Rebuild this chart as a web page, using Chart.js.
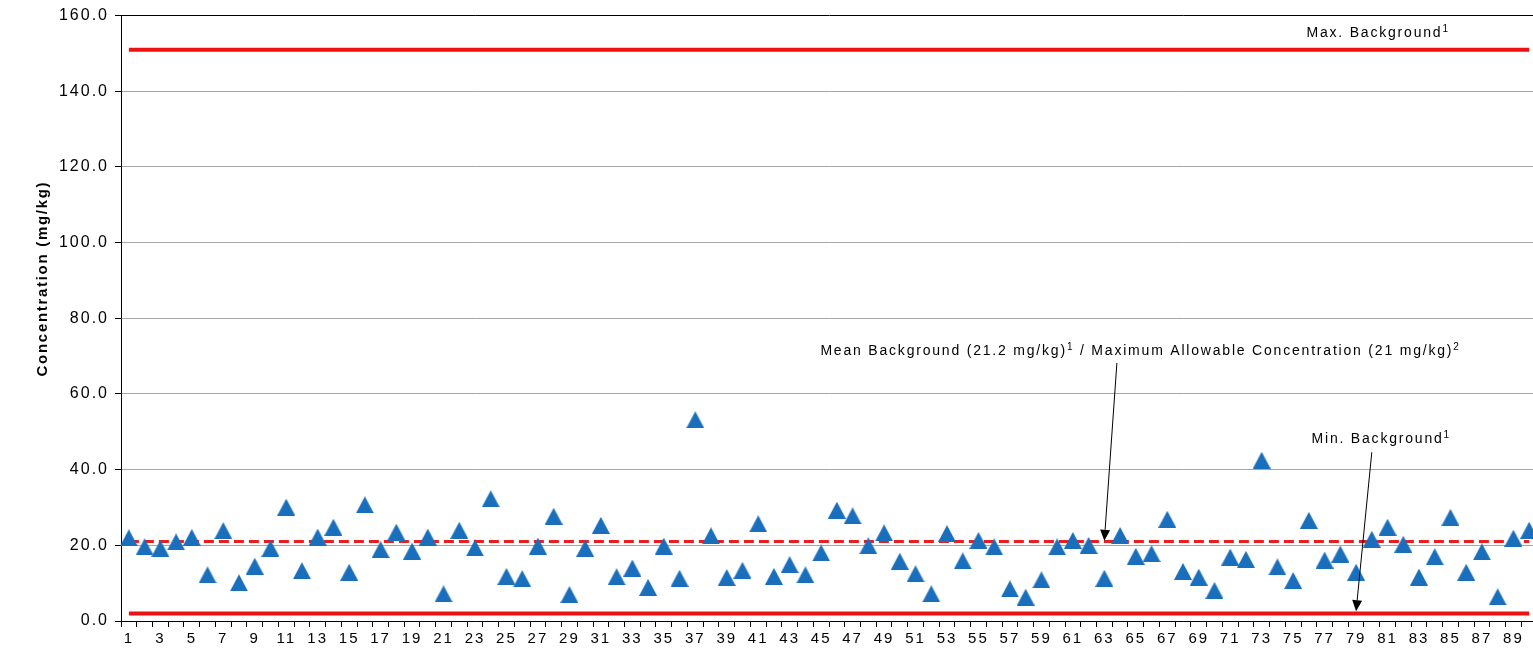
<!DOCTYPE html>
<html>
<head>
<meta charset="utf-8" />
<title>Concentration by Sample</title>
<script src="https://cdn.jsdelivr.net/npm/chart.js"></script>
<style>
	html, body { margin: 0; padding: 0; background: #fff; overflow: hidden; }
	#concChart { display: block; }
</style>
</head>
<body>
<!-- the original plot runs past the right edge of the picture, so the canvas is a bit wider than the window -->
<canvas id="concChart" width="1547" height="651"></canvas>
<script>
// sample numbers along the x axis
const samples = ['1','2','3','4','5','6','7','8','9','10','11','12','13','14','15','16','17','18','19','20',
	'21','22','23','24','25','26','27','28','29','30','31','32','33','34','35','36','37','38','39','40',
	'41','42','43','44','45','46','47','48','49','50','51','52','53','54','55','56','57','58','59','60',
	'61','62','63','64','65','66','67','68','69','70','71','72','73','74','75','76','77','78','79','80',
	'81','82','83','84','85','86','87','88','89','90'];

// concentration (mg/kg)
const concentration = [
	22.0, 19.6, 19.2, 20.9, 22.1, 12.2, 23.9, 10.1, 14.5, 19.2,
	30.1, 13.3, 22.2, 24.8, 12.9, 30.7, 18.9, 23.5, 18.5, 22.2,
	7.2, 24.0, 19.3, 32.3, 11.8, 11.2, 19.8, 27.7, 7.0, 19.2,
	25.3, 11.7, 14.0, 8.9, 19.8, 11.3, 53.2, 22.5, 11.5, 13.4,
	25.7, 11.8, 14.9, 12.2, 18.0, 29.3, 27.8, 19.9, 23.3, 15.8,
	12.5, 7.2, 23.1, 15.9, 21.3, 19.6, 8.5, 6.3, 10.9, 19.6,
	21.3, 20.0, 11.3, 22.6, 17.1, 17.8, 26.9, 13.1, 11.6, 8.1,
	16.9, 16.3, 42.5, 14.3, 10.7, 26.6, 16.1, 17.7, 12.9, 21.6,
	24.8, 20.3, 11.6, 17.0, 27.4, 12.9, 18.3, 6.4, 21.9, 24.0
];

// reference levels
const maxBackground = 151;
const meanBackground = 21;
const minBackground = 2;

// y axis
const yMin = 0;
const yMax = 160;
const yStep = 20;
const yTitle = 'Concentration (mg/kg)';

const FONT = "'Liberation Sans', Arial, sans-serif";
Chart.defaults.font.family = FONT;
Chart.defaults.color = '#000';

function triangleMarker(w, h, color) {
	const c = document.createElement('canvas');
	c.width = w;
	c.height = h;
	const g = c.getContext('2d');
	g.fillStyle = color;
	g.beginPath();
	g.moveTo(w / 2, 0);
	g.lineTo(w, h);
	g.lineTo(0, h);
	g.closePath();
	g.fill();
	return c;
}

function refLine(value) {
	return [
		{ x: samples[0], y: value },
		{ x: samples[samples.length - 1], y: value }
	];
}

// labels and arrows, positioned in data space (sample index, mg/kg)
const labels = [
	{ text: 'Max. Background', sup: '1', at: [79.4, 155.3] },
	{ text: 'Mean Background (21.2 mg/kg)', sup: '1', rest: ' / Maximum Allowable Concentration (21 mg/kg)', sup2: '2', at: [64.3, 71.2] },
	{ text: 'Min. Background', sup: '1', at: [79.6, 48.1] }
];
const arrows = [
	{ from: [62.8, 68.2], to: [62.0, 21.2] },
	{ from: [79.0, 44.6], to: [78.0, 2.6] }
];

const notesPlugin = {
	id: 'notes',
	beforeDraw(chart) {
		// the original renders its text with loose tracking
		chart.ctx.letterSpacing = '2px';
	},
	afterDatasetsDraw(chart) {
		const { ctx, chartArea, scales: { x, y } } = chart;
		ctx.save();
		ctx.fillStyle = '#000';
		ctx.strokeStyle = '#000';
		ctx.textBaseline = 'middle';
		ctx.textAlign = 'left';
		ctx.letterSpacing = '1.8px';

		labels.forEach(l => {
			const parts = [[l.text, false], [l.sup, true]];
			if (l.rest) parts.push([l.rest, false], [l.sup2, true]);
			let total = 0;
			parts.forEach(p => {
				ctx.font = p[1] ? '10px ' + FONT : '14px ' + FONT;
				total += ctx.measureText(p[0]).width;
			});
			let px = x.getPixelForValue(l.at[0]) - total / 2;
			const py = y.getPixelForValue(l.at[1]);
			parts.forEach(p => {
				ctx.font = p[1] ? '10px ' + FONT : '14px ' + FONT;
				ctx.fillText(p[0], px, p[1] ? py - 4 : py);
				px += ctx.measureText(p[0]).width;
			});
		});

		arrows.forEach(a => {
			const x0 = x.getPixelForValue(a.from[0]), y0 = y.getPixelForValue(a.from[1]);
			const x1 = x.getPixelForValue(a.to[0]), y1 = y.getPixelForValue(a.to[1]);
			const ang = Math.atan2(y1 - y0, x1 - x0);
			const len = 11, half = 5;
			const bx = x1 - Math.cos(ang) * len, by = y1 - Math.sin(ang) * len;
			ctx.lineWidth = 1;
			ctx.beginPath();
			ctx.moveTo(x0, y0);
			ctx.lineTo(bx, by);
			ctx.stroke();
			ctx.beginPath();
			ctx.moveTo(x1, y1);
			ctx.lineTo(bx + Math.sin(ang) * half, by - Math.cos(ang) * half);
			ctx.lineTo(bx - Math.sin(ang) * half, by + Math.cos(ang) * half);
			ctx.closePath();
			ctx.fill();
		});

		// y axis title, sitting a little above the middle as in the original
		ctx.font = 'bold 15px ' + FONT;
		ctx.letterSpacing = '1.7px';
		ctx.textAlign = 'center';
		ctx.translate(chartArea.left - 78, y.getPixelForValue(90.5));
		ctx.rotate(-Math.PI / 2);
		ctx.fillText(yTitle, 0, 0);
		ctx.restore();
	}
};

new Chart(document.getElementById('concChart'), {
	type: 'line',
	data: {
		labels: samples,
		datasets: [
			{
				label: 'Concentration',
				data: concentration,
				showLine: false,
				pointStyle: triangleMarker(18, 17, '#1a6fbd'),
				pointRadius: 9,
				pointHoverRadius: 9
			},
			{
				label: 'Mean Background',
				data: refLine(meanBackground),
				borderColor: '#ee1c1c',
				borderWidth: 3,
				borderDash: [10, 5],
				pointRadius: 0
			},
			{
				label: 'Max. Background',
				data: refLine(maxBackground),
				borderColor: '#ee1111',
				borderWidth: 4,
				pointRadius: 0
			},
			{
				label: 'Min. Background',
				data: refLine(minBackground),
				borderColor: '#ee1111',
				borderWidth: 4,
				pointRadius: 0
			}
		]
	},
	options: {
		responsive: false,
		animation: false,
		layout: { padding: { left: 9, top: 15, right: 0, bottom: 0 } },
		plugins: {
			legend: { display: false },
			tooltip: { enabled: false }
		},
		scales: {
			x: {
				offset: true,
				grid: {
					drawOnChartArea: false,
					drawTicks: true,
					tickLength: 6,
					tickColor: '#000',
					offset: true
				},
				border: { color: '#000', width: 1 },
				ticks: {
					autoSkip: false,
					maxRotation: 0,
					padding: 3,
					font: { size: 15 },
					callback: (v, i) => (i % 2 === 0 ? samples[i] : '')
				},
				afterFit: s => { s.height = 30; }
			},
			y: {
				min: yMin,
				max: yMax,
				grid: {
					color: c => (c.tick && c.tick.value === yMax ? '#000' : '#a6a6a6'),
					lineWidth: 1,
					tickLength: 6,
					tickColor: '#000'
				},
				border: { color: '#000', width: 1 },
				ticks: {
					stepSize: yStep,
					padding: 6,
					font: { size: 16 },
					callback: v => v.toFixed(1)
				},
				afterFit: s => { s.width = 112; }
			}
		}
	},
	plugins: [notesPlugin]
});
</script>
</body>
</html>
